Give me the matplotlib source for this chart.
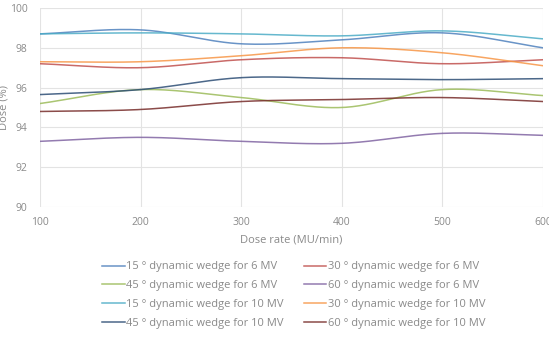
import numpy as np
import matplotlib
matplotlib.use('Agg')
import matplotlib.pyplot as plt

plt.rcParams['font.family'] = ['Open Sans', 'DejaVu Sans']

dose_rate = [100, 200, 300, 400, 500, 600]

w15_6mv = [98.7, 98.9, 98.2, 98.4, 98.75, 98.0]
w30_6mv = [97.2, 97.0, 97.4, 97.5, 97.2, 97.4]
w45_6mv = [95.2, 95.9, 95.5, 95.0, 95.9, 95.6]
w60_6mv = [93.3, 93.5, 93.3, 93.2, 93.7, 93.6]
w15_10mv = [98.7, 98.75, 98.7, 98.6, 98.85, 98.45]
w30_10mv = [97.3, 97.3, 97.6, 98.0, 97.75, 97.1]
w45_10mv = [95.65, 95.9, 96.5, 96.45, 96.4, 96.45]
w60_10mv = [94.8, 94.9, 95.3, 95.4, 95.5, 95.3]

series_labels = [
    '15 ° dynamic wedge for 6 MV',
    '30 ° dynamic wedge for 6 MV',
    '45 ° dynamic wedge for 6 MV',
    '60 ° dynamic wedge for 6 MV',
    '15 ° dynamic wedge for 10 MV',
    '30 ° dynamic wedge for 10 MV',
    '45 ° dynamic wedge for 10 MV',
    '60 ° dynamic wedge for 10 MV',
]
series_values = [w15_6mv, w30_6mv, w45_6mv, w60_6mv,
                 w15_10mv, w30_10mv, w45_10mv, w60_10mv]
colors = ['#4F81BD', '#C0504D', '#9BBB59', '#8064A2',
          '#4BACC6', '#F79646', '#2C4D75', '#772C2A']


def smooth(x, y, n=30):
    # Catmull-Rom curve through the points, like Excel's smoothed line
    x = np.asarray(x, float)
    y = np.asarray(y, float)
    px = np.concatenate([[2 * x[0] - x[1]], x, [2 * x[-1] - x[-2]]])
    py = np.concatenate([[2 * y[0] - y[1]], y, [2 * y[-1] - y[-2]]])
    xs, ys = [], []
    t = np.linspace(0, 1, n)
    for i in range(1, len(px) - 2):
        for p, out in ((px, xs), (py, ys)):
            p0, p1, p2, p3 = p[i - 1], p[i], p[i + 1], p[i + 2]
            out.append(0.5 * ((2 * p1) + (-p0 + p2) * t
                              + (2 * p0 - 5 * p1 + 4 * p2 - p3) * t ** 2
                              + (-p0 + 3 * p1 - 3 * p2 + p3) * t ** 3))
    return np.concatenate(xs), np.concatenate(ys)


fig = plt.figure(figsize=(5.49, 3.38), dpi=100)
ax = fig.add_axes([40 / 549, 1 - 207 / 338, 503 / 549, 199 / 338])

handles = []
for vals, lab, col in zip(series_values, series_labels, colors):
    sx, sy = smooth(dose_rate, vals)
    h, = ax.plot(sx, sy, color=col, linewidth=1.1, alpha=0.85, label=lab)
    handles.append(h)

ax.set_xlim(100, 600)
ax.set_ylim(90, 100)
ax.set_xticks(dose_rate)
ax.set_yticks(np.arange(90, 101, 2))
ax.grid(True, color='#e3e3e3', linewidth=0.8)
ax.set_axisbelow(True)
for s in ax.spines.values():
    s.set_visible(False)
ax.tick_params(length=0, labelsize=7.5, colors='#8a8a8a', pad=7)
ax.tick_params(axis='y', pad=9)

ax.set_xlabel('Dose rate (MU/min)', fontsize=8, color='#8a8a8a', labelpad=5)
ax.set_ylabel('Dose (%)', fontsize=8, color='#8a8a8a', labelpad=0)

# column-first ordering so rows read 15/30, 45/60
order = [0, 2, 4, 6, 1, 3, 5, 7]
leg = fig.legend([handles[i] for i in order], [series_labels[i] for i in order],
                 loc='upper center', bbox_to_anchor=(0.535, 0.243), ncol=2,
                 frameon=False, fontsize=8, handlelength=2.0, handletextpad=0.1,
                 columnspacing=1.9, labelspacing=0.7, borderpad=0)
for t in leg.get_texts():
    t.set_color('#8a8a8a')

fig.savefig('out.png', dpi=100)
